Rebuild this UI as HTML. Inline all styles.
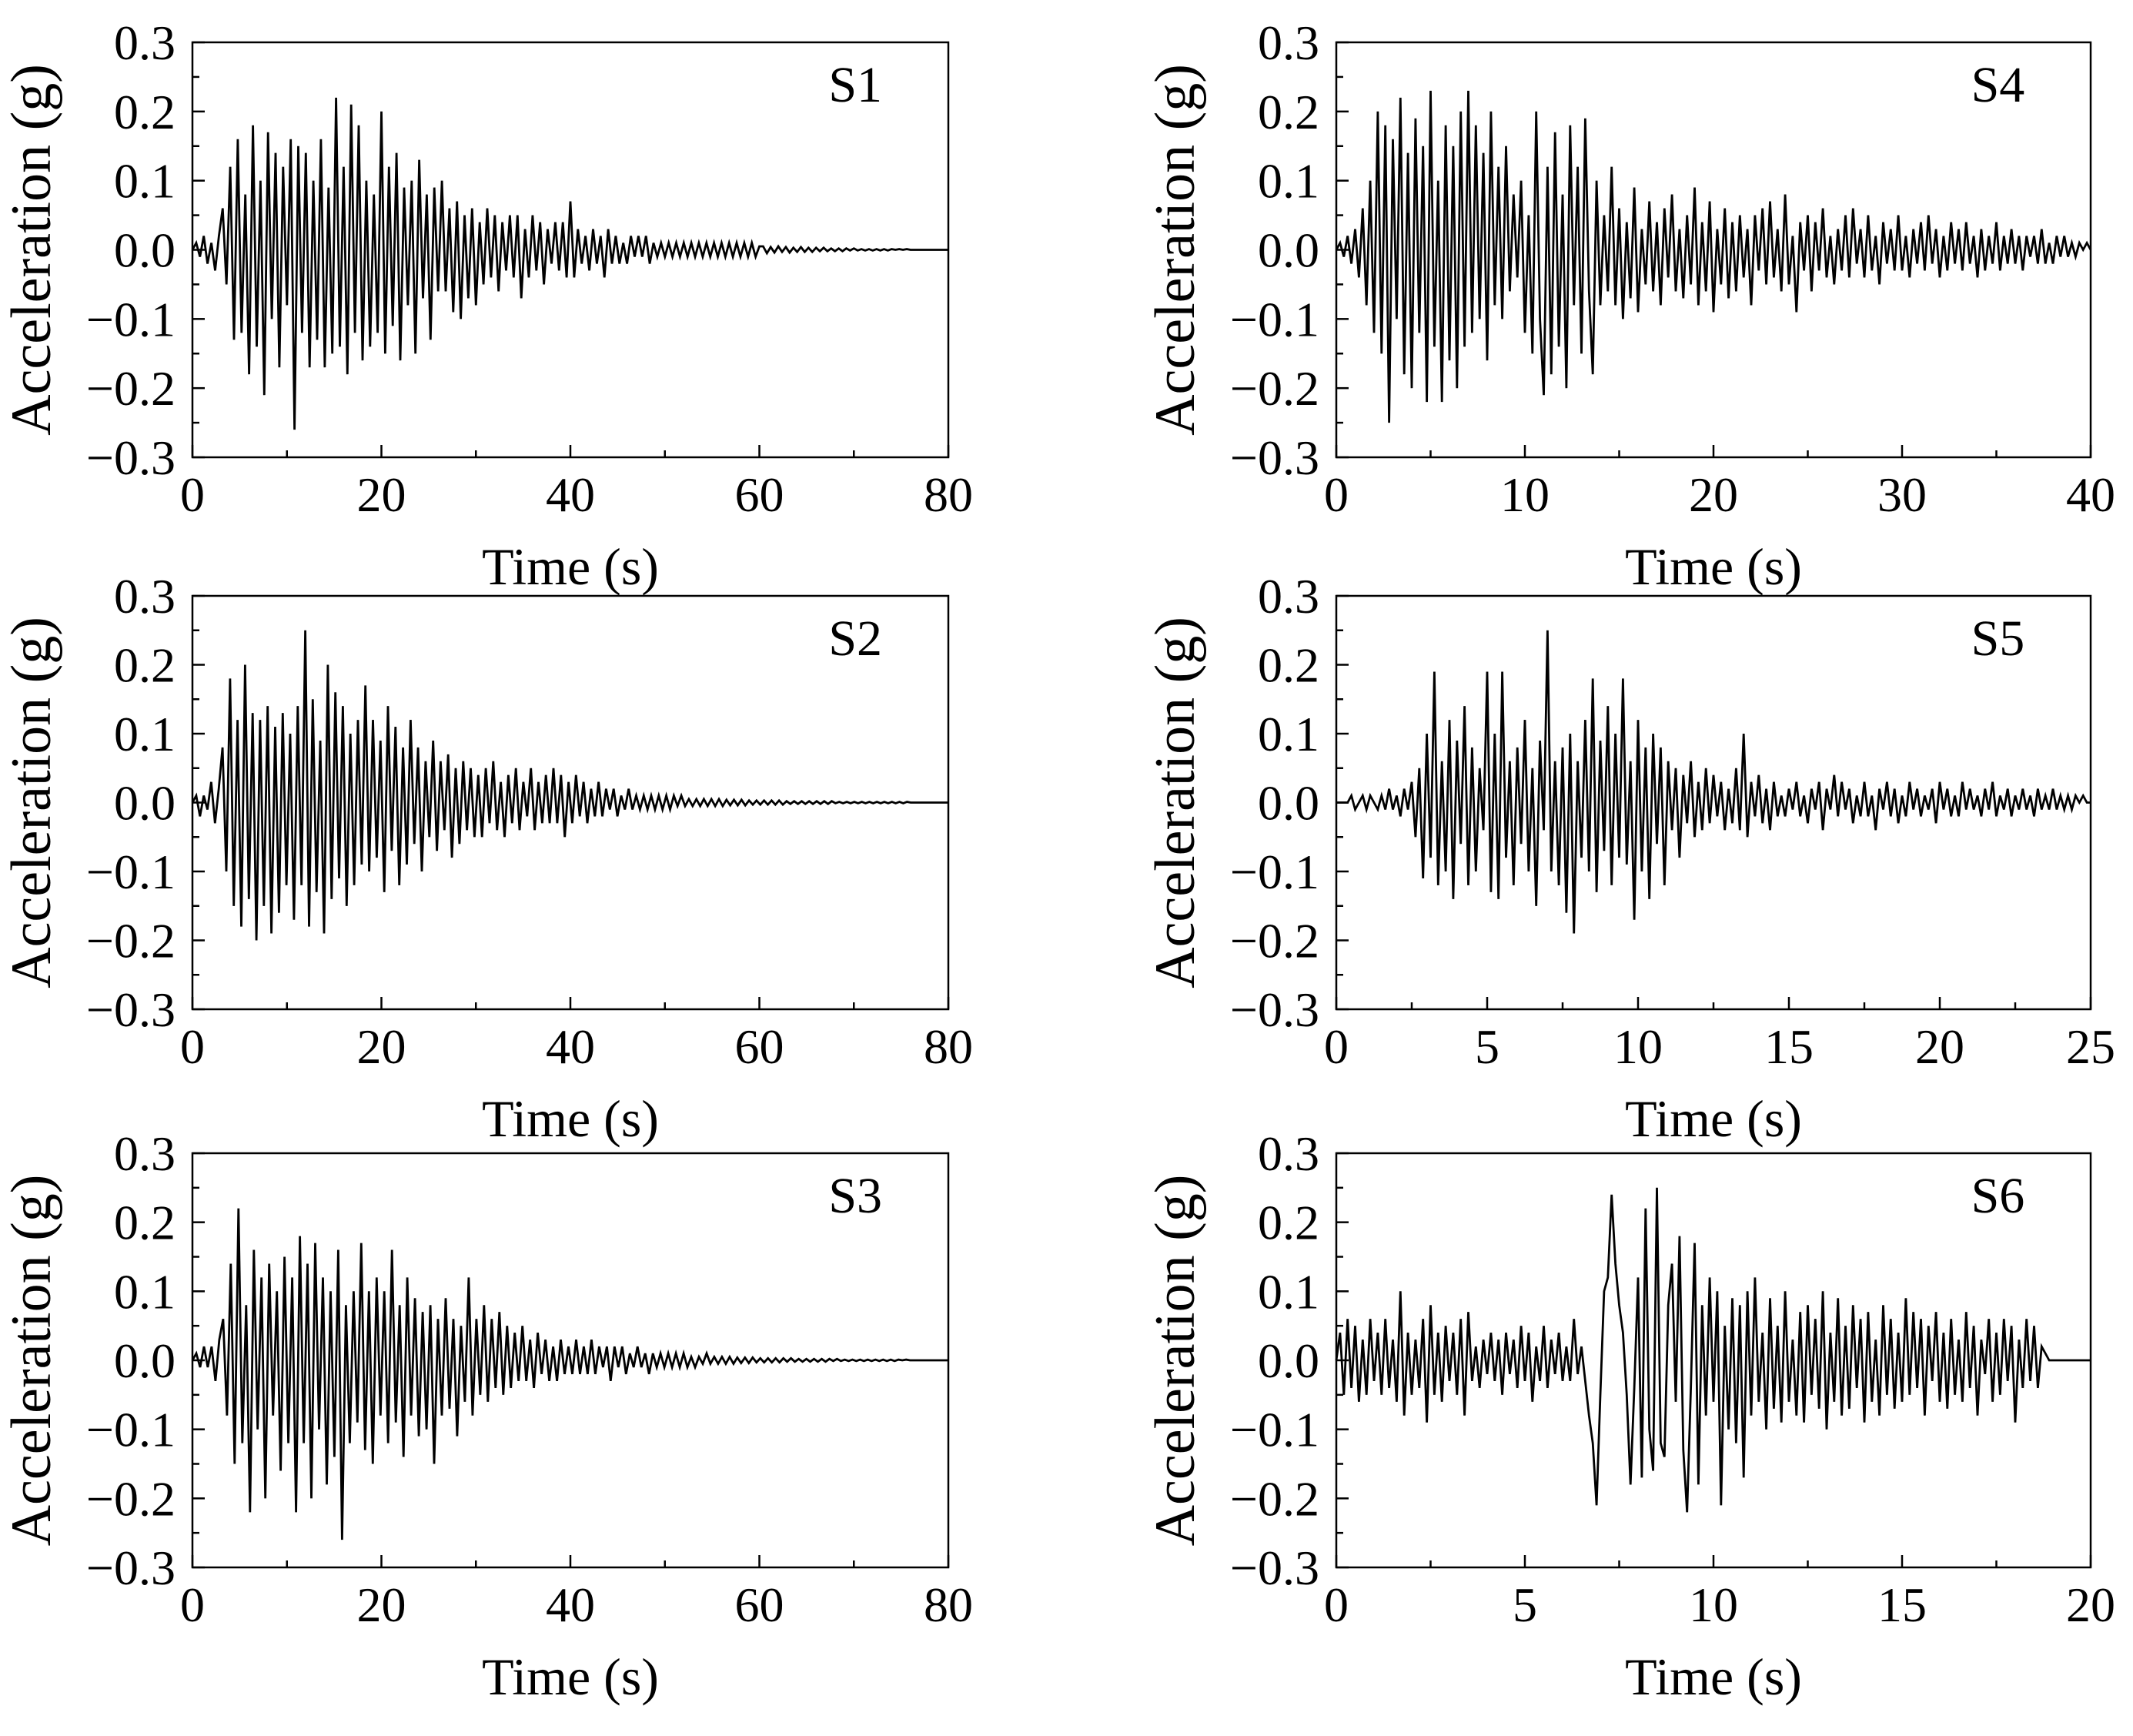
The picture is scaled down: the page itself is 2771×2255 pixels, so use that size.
<!DOCTYPE html>
<html><head><meta charset="utf-8"><style>
html,body{margin:0;padding:0;background:#fff;}
svg{display:block;font-family:"Liberation Serif","Times New Roman",serif;}
</style></head><body>
<svg id="fig" width="2771" height="2255" viewBox="0 0 2771 2255" xmlns="http://www.w3.org/2000/svg"></svg>
<script>
// Data (acceleration in hundredths of g, uniformly spaced over each record duration)
const s1Duration = 80;
const s1Values = [0,1,-1,2,-2,1,-3,2,
6,-5,12,-13,16,-12,8,-18,18,-14,10,-21,17,-10,14,-17,12,-8,
16,-26,15,-12,14,-17,10,-13,16,-17,9,-15,22,-14,12,-18,21,-12,18,-16,10,-14,8,-12,20,
-15,12,-11,14,-16,9,-8,10,-15,13,-7,8,-13,9,-6,10,-6,6,-9,7,-10,5,-7,6,-8,
4,-5,6,-4,5,-6,4,-3,5,-4,5,-7,3,-4,5,-3,4,-5,3,-2,4,-3,4,-4,7,
-4,3,-2,2,-3,3,-2,2,-4,3,-2,2,-2,1,-2,2,-1,2,-1,2,-2,1,-1,1,-1,
1,-1,1,-1,1,-1,1,-1,1,-1,1,-1,1,-1,1,-1,1,-1,1,-1,1,-1,1,-1,0.5,
0.5,-0.5,0.4,-0.4,0.5,-0.3,0.4,-0.4,0.3,-0.3,0.4,-0.3,0.3,-0.3,0.3,-0.2,0.3,-0.2,0.2,-0.2,0.2,-0.2,0.2,-0.1,0.2,-0.1,0.1,-0.1,0.1,-0.1,0.1,-0.1,0.1,-0.1,0.1,0,0.1,0,0.1,0,0,0,0,0,0,0,0,0,0,0];
const s2Duration = 80;
const s2Values = [0,1,-2,1,-1,3,-3,2,
8,-10,18,-15,12,-18,20,-14,13,-20,12,-15,14,-19,11,-16,13,-12,
10,-17,14,-12,25,-18,15,-13,9,-19,20,-14,16,-11,14,-15,10,-12,12,-9,17,-10,12,-8,9,
-13,14,-7,11,-12,8,-9,12,-6,8,-10,6,-5,9,-7,6,-4,7,-8,5,-6,6,-4,5,-5,
4,-5,5,-3,6,-4,3,-5,4,-3,5,-4,3,-2,5,-4,3,-3,4,-3,5,-3,4,-5,3,
-3,4,-2,3,-3,2,-2,3,-2,2,-1,2,-2,1,-1,2,-1,1,-1,1,-1,1,-1,1,-1,
1,-1,1,-0.5,1,-0.5,0.5,-0.5,0.5,-0.5,0.5,-0.5,0.5,-0.5,0.5,-0.5,0.4,-0.4,0.4,-0.4,0.4,-0.4,0.3,-0.3,0.3,
-0.3,0.3,-0.3,0.3,-0.3,0.3,-0.3,0.2,-0.2,0.2,-0.2,0.2,-0.2,0.2,-0.2,0.2,-0.2,0.2,-0.2,0.2,-0.1,0.1,-0.1,0.1,-0.1,0.1,-0.1,0.1,-0.1,0.1,-0.1,0.1,-0.1,0.1,-0.1,0.1,-0.1,0.1,-0.1,0.1,0,0,0,0,0,0,0,0,0,0,0];
const s3Duration = 80;
const s3Values = [0,1,-1,2,-1,2,-3,3,
6,-8,14,-15,22,-12,8,-22,16,-10,12,-20,14,-8,10,-16,15,-12,
12,-22,18,-12,14,-20,17,-10,12,-18,10,-14,16,-26,8,-12,10,-9,17,-13,10,-15,12,-8,10,
-12,16,-9,8,-14,12,-8,9,-11,7,-10,8,-15,6,-8,9,-7,6,-11,5,-6,12,-8,6,-5,
8,-6,6,-4,7,-5,5,-4,4,-3,5,-3,3,-4,4,-2,3,-3,2,-3,3,-2,2,-2,3,
-2,2,-2,3,-2,2,-1,2,-3,2,-1,2,-2,1,-1,2,-1,1,-2,1,-1,1,-1,1,-1,
1,-1,1,-1,0.5,-1,0.5,-0.5,1,-0.5,0.5,-0.5,0.5,-0.5,0.5,-0.5,0.4,-0.4,0.4,-0.4,0.4,-0.3,0.3,-0.3,0.3,
-0.3,0.3,-0.3,0.3,-0.2,0.3,-0.2,0.2,-0.2,0.2,-0.2,0.2,-0.2,0.2,-0.2,0.2,-0.1,0.2,-0.1,0.1,-0.1,0.1,-0.1,0.1,-0.1,0.1,-0.1,0.1,-0.1,0.1,-0.1,0.1,-0.1,0.1,0,0.1,0,0,0,0,0,0,0,0,0,0,0];
const s4Duration = 40;
const s4Values = [0,1,-1,2,-2,3,-4,6,-8,10,
-12,20,-15,18,-25,16,-10,22,-18,14,-20,19,-12,15,-22,23,-14,10,-22,18,
-16,15,-20,20,-14,23,-12,18,-10,14,-16,20,-8,12,-10,15,-6,8,-4,10,
-12,5,-15,20,-10,-21,12,-18,17,-14,8,-20,18,-8,12,-15,19,-6,-18,10,
-8,5,-6,12,-8,6,-10,4,-7,9,-9,3,-5,7,-6,4,-8,6,-4,8,-6,3,-7,5,-5,9,-8,4,-6,7,
-9,3,-5,6,-7,4,-6,5,-4,3,-8,5,-3,6,-5,7,-4,3,-6,8,-5,2,-9,4,-3,5,-6,4,-3,6,-4,2,-5,3,-3,5,-4,6,-2,3,-4,5,-3,2,-5,4,-2,3,-3,5,
-3,2,-4,3,-2,4,-3,5,-2,3,-4,2,-3,4,-2,3,-3,4,-2,2,-4,3,-3,2,-2,4,-3,2,-2,3,-2,2,-3,2,-1,2,-2,3,-2,1,-2,2,-1,2,-1,1,-1,1,0,1,0];
const s5Duration = 25;
const s5Values = [0,0,0,0,1,-1,0,1,-1,1,0,-1,1,-1,2,-1,1,-2,2,-1,
3,-5,5,-11,10,-8,19,-12,6,-10,12,-14,9,-6,14,-12,8,-10,5,-4,
19,-13,10,-14,19,-8,6,-12,8,-6,12,-10,5,-15,9,-4,25,-10,6,-12,
8,-16,10,-19,6,-8,12,-10,18,-13,9,-7,14,-12,10,-8,18,-9,6,-17,
12,-10,8,-14,10,-6,8,-12,6,-4,5,-8,4,-3,6,-5,3,-4,5,-3,
4,-2,3,-4,2,-3,5,-4,10,-5,3,-2,4,-3,2,-4,3,-2,1,-2,
2,-1,3,-2,1,-3,2,-1,3,-4,2,-1,4,-2,3,-1,2,-3,1,-2,3,-2,1,-4,2,-1,3,-2,2,-3,1,-2,3,-1,2,-2,1,-1,2,-3,3,-1,2,-2,1,-2,3,-1,2,-1,1,-2,2,-1,3,-2,1,-1,2,-2,1,-1,2,-1,1,-2,2,-1,1,-1,2,-1,1,-1,1,-1,1,0,1,0,0];
const s6Duration = 20;
const s6Values = [0,4,-5,6,-4,5,-6,3,-5,6,-3,4,-5,6,-4,3,-6,10,-8,4,-5,3,-4,6,-9,8,-5,4,-6,5,-3,4,-5,6,-8,7,-3,2,-4,3,-2,4,-3,3,-5,4,-2,3,-4,5,-3,4,-6,2,-3,5,-4,3,-2,4,-3,2,-3,6,-2,
2,-3,-8,-12,-21,-5,10,12,24,14,
8,4,-5,-18,-4,12,-17,22,-10,-16,25,-12,-14,8,14,-6,18,-13,-22,-4,17,-18,8,-8,12,-6,10,-21,5,-10,9,-12,8,-17,10,
-8,12,-6,4,-10,9,-7,5,-9,10,-6,3,-8,7,-9,8,-5,6,-7,10,-10,4,-6,9,-8,5,-7,8,-4,6,-9,7,-6,3,-8,8,-5,6,-7,4,-6,9,-5,7,-4,6,-8,5,-3,7,-6,4,-7,6,-5,3,-6,7,-4,5,-8,3,-2,6,-6,4,-5,6,-3,5,-9,3,-4,6,-3,5,-4,2,
1,0,0,0,0,0,0,0,0,0,0,0,0];
const yTickValues = [0.3,0.2,0.1,0.0,-0.1,-0.2,-0.3];
const yTickLabels = ["0.3","0.2","0.1","0.0","\u22120.1","\u22120.2","\u22120.3"];
const xTicks80 = [0,20,40,60,80];
const xTicks40 = [0,10,20,30,40];
const xTicks25 = [0,5,10,15,20,25];
const xTicks20 = [0,5,10,15,20];

const panels = [
 {id:"s1", label:"S1", vals:s1Values, dur:s1Duration, ticks:xTicks80, minor:10, L:250, T:55, R:1232, B:594},
 {id:"s2", label:"S2", vals:s2Values, dur:s2Duration, ticks:xTicks80, minor:10, L:250, T:774, R:1232, B:1311},
 {id:"s3", label:"S3", vals:s3Values, dur:s3Duration, ticks:xTicks80, minor:10, L:250, T:1498, R:1232, B:2036},
 {id:"s4", label:"S4", vals:s4Values, dur:s4Duration, ticks:xTicks40, minor:5, L:1736, T:55, R:2716, B:594},
 {id:"s5", label:"S5", vals:s5Values, dur:s5Duration, ticks:xTicks25, minor:2.5, L:1736, T:774, R:2716, B:1311},
 {id:"s6", label:"S6", vals:s6Values, dur:s6Duration, ticks:xTicks20, minor:2.5, L:1736, T:1498, R:2716, B:2036}
];
const NS="http://www.w3.org/2000/svg";
const svg=document.getElementById('fig');
function mk(tag,attrs,parent){const e=document.createElementNS(NS,tag);for(const k in attrs)e.setAttribute(k,attrs[k]);(parent||svg).appendChild(e);return e;}

panels.forEach(p=>{
  const g=mk('g',{});
  
  
  const xmax=p.ticks[p.ticks.length-1];
  const xs=t=>p.L+(t/xmax)*(p.R-p.L);
  const ys=v=>p.T+(0.3-v)/0.6*(p.B-p.T);
  const n=p.vals.length;
  let d='';
  p.vals.forEach((v,i)=>{const t=i*p.dur/(n-1);d+=(i?'L':'M')+xs(t).toFixed(1)+' '+ys(v/100).toFixed(1);});
  const line=mk('path',{d:d,fill:'none',stroke:'#000','stroke-width':2.8,'stroke-linejoin':'miter'},g);
  
  
  const fr=mk('rect',{x:p.L,y:p.T,width:p.R-p.L,height:p.B-p.T,fill:'none',stroke:'#000','stroke-width':2.5},g);
  
  
  for(let t=0;t<=xmax+1e-9;t+=p.minor){
    const major=p.ticks.some(m=>Math.abs(m-t)<1e-9);
    const len=major?16:9;
    mk('line',{x1:xs(t),x2:xs(t),y1:p.B,y2:p.B-len,stroke:'#000','stroke-width':2.5},g);
  }
  p.ticks.forEach(t=>{
    const tx=mk('text',{x:xs(t),y:p.B+70,'font-size':64,'text-anchor':'middle'},g);
    tx.textContent=String(t);
    
    
  });
  for(let k=0;k<=12;k++){
    const v=0.3-k*0.05;const major=k%2===0;
    mk('line',{x1:p.L,x2:p.L+(major?16:9),y1:ys(v),y2:ys(v),stroke:'#000','stroke-width':2.5},g);
  }
  yTickValues.forEach((v,i)=>{
    const tx=mk('text',{x:p.L-22,y:ys(v)+22,'font-size':64,'text-anchor':'end'},g);
    tx.textContent=yTickLabels[i];
    
    
  });
  const xt=mk('text',{x:(p.L+p.R)/2,y:p.B+165,'font-size':68,'text-anchor':'middle'},g);
  xt.textContent='Time (s)';
  
  
  const cy=(p.T+p.B)/2, cx=p.L-185;
  const yt=mk('text',{x:cx,y:cy,'font-size':74,'text-anchor':'middle',transform:`rotate(-90 ${cx} ${cy})`},g);
  yt.textContent='Acceleration (g)';
  
  
  const pl=mk('text',{x:p.L+0.877*(p.R-p.L),y:p.T+77,'font-size':66,'text-anchor':'middle'},g);
  pl.textContent=p.label;
  
  
});
</script>
</body></html>
